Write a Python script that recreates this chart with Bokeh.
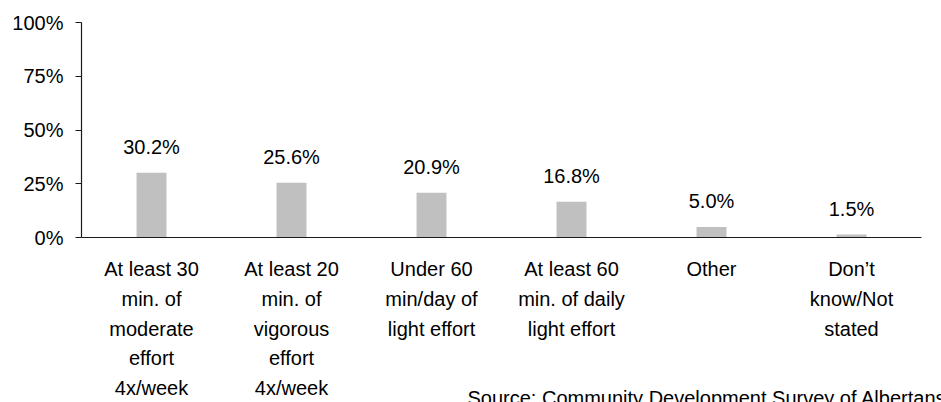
from bokeh.plotting import figure
from bokeh.models import Range1d, FixedTicker, PrintfTickFormatter, ColumnDataSource
from bokeh.core.properties import value
from bokeh.embed import file_html
from bokeh.resources import INLINE

categories = [
    ["At least 30", "min. of", "moderate", "effort", "4x/week"],
    ["At least 20", "min. of", "vigorous", "effort", "4x/week"],
    ["Under 60", "min/day of", "light effort"],
    ["At least 60", "min. of daily", "light effort"],
    ["Other"],
    ["Don\u2019t", "know/Not", "stated"],
]
values = [30.2, 25.6, 20.9, 16.8, 5.0, 1.5]
value_labels = ["30.2%", "25.6%", "20.9%", "16.8%", "5.0%", "1.5%"]
y_ticks = [0, 25, 50, 75, 100]
source_text = "Source: Community Development Survey of Albertans"

FONT = "Liberation Sans"
FS = "20px"
INK = "#1a1a1a"

W, H = 941, 402
TOP, LEFT = 22, 81
CAT_PX = 140.0
n = len(values)
X_MAX = (W - LEFT) / CAT_PX
Y_MIN = -76.5
px_per_unit = (H - TOP) / (100 - Y_MIN)

p = figure(width=W, height=H, output_backend="svg", toolbar_location=None,
           x_range=Range1d(0, X_MAX), y_range=Range1d(Y_MIN, 100),
           min_border_left=LEFT, min_border_right=0, min_border_top=TOP, min_border_bottom=0)
p.outline_line_color = None
p.grid.grid_line_color = None
p.background_fill_color = "white"
p.border_fill_color = "white"

xs = [i + 0.5 for i in range(n)]
src = ColumnDataSource(dict(x=xs, top=values, lab=value_labels))
p.vbar(x="x", top="top", bottom=0, width=0.214, source=src, fill_color="#C0C0C0", line_color=None)
p.text(x="x", y="top", text="lab", source=src, y_offset=-26, text_align="center",
       text_baseline="alphabetic", text_font=value(FONT), text_font_size=FS, text_color="black")

# x axis line at 0 spanning the categories only
xa = p.xaxis[0]
xa.fixed_location = 0
xa.bounds = (0, n)
xa.ticker = FixedTicker(ticks=[])
xa.major_tick_out = 0
xa.major_tick_in = 0
xa.minor_tick_out = 0
xa.minor_tick_in = 0
xa.major_label_text_font_size = "0px"
xa.axis_line_color = INK
xa.axis_line_width = 1.2

# y axis
ya = p.yaxis[0]
ya.bounds = (0, 100)
ya.ticker = FixedTicker(ticks=y_ticks)
ya.formatter = PrintfTickFormatter(format="%d%%")
ya.major_tick_out = 6
ya.major_tick_in = 0
ya.minor_tick_out = 0
ya.minor_tick_in = 0
ya.major_label_standoff = 12
ya.major_label_text_font = FONT
ya.major_label_text_font_size = FS
ya.major_label_text_color = "black"
ya.axis_line_color = INK
ya.major_tick_line_color = INK
ya.axis_line_width = 1.2

# category labels below the axis
first_baseline_px = 31.5
line_step_px = 29.7
cx, cy, ct = [], [], []
for x, lines in zip(xs, categories):
    for j, line in enumerate(lines):
        cx.append(x)
        cy.append(-(first_baseline_px + j * line_step_px) / px_per_unit)
        ct.append(line)
p.text(x=cx, y=cy, text=ct, text_align="center", text_baseline="alphabetic",
       text_font=value(FONT), text_font_size=FS, text_color="black")

p.text(x=[(467 - LEFT) / CAT_PX], y=[-160.5 / px_per_unit],
       text=[source_text], text_align="left", text_baseline="alphabetic",
       text_font=value(FONT), text_font_size=FS, text_color="black")

open("out.html", "w").write(file_html(p, INLINE))
